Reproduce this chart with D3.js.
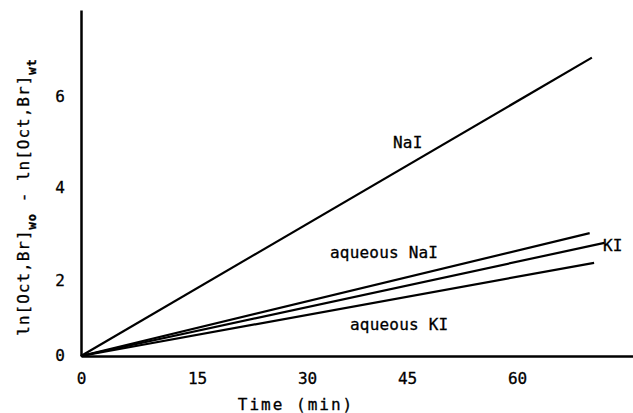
<!DOCTYPE html>
<html>
<head>
<meta charset="utf-8">
<script src="https://cdn.jsdelivr.net/npm/d3@7"></script>
<style>
  html, body { margin: 0; padding: 0; background: #fff; }
  text { font-family: "DejaVu Sans Mono", "Liberation Mono", monospace; fill: #000; stroke: #000; stroke-width: 0.3px; }
</style>
</head>
<body>
<svg id="chart" width="633" height="413"></svg>
<script>
const width = 633;
const height = 413;

// tick labels as printed (hand-placed on the original, so scales are piecewise)
const xTicks = [0, 15, 30, 45, 60];
const yTicks = [0, 2, 4, 6];

// time (min) at start and end of each fitted line
const naiTime = [0, 70.2];
const naiVal = [0, 6.86];
const aqNaiTime = [0, 69.9];
const aqNaiVal = [0, 3.03];
const kiTime = [0, 71.9];
const kiVal = [0, 2.82];
const aqKiTime = [0, 70.5];
const aqKiVal = [0, 2.39];

const svg = d3.select("#chart");

const x = d3.scaleLinear()
  .domain([0, 15, 30, 45, 60, 75.8])
  .range([81, 197, 307, 407, 517, 633]);

const y = d3.scaleLinear()
  .domain([0, 2, 4, 6, 7.9])
  .range([356, 281, 188, 97, 10]);

// X axis
const xAxis = svg.append("g")
  .attr("transform", `translate(0,${y(0)})`)
  .call(d3.axisBottom(x).tickValues(xTicks).tickSize(0).tickSizeOuter(0).tickPadding(17));

// Y axis
const yAxis = svg.append("g")
  .attr("transform", `translate(${x(0)},0)`)
  .call(d3.axisLeft(y).tickValues(yTicks).tickSize(0).tickSizeOuter(0).tickPadding(16));

[xAxis, yAxis].forEach(a => {
  a.select(".domain").attr("stroke", "#000").attr("stroke-width", 2.5);
  a.selectAll("text")
    .style("font-family", "'DejaVu Sans Mono', monospace")
    .style("font-size", "16px")
    .attr("fill", "#000");
});
yAxis.selectAll(".tick text").attr("dy", "0.25em");

// lines
const series = [
  { t: naiTime, v: naiVal },
  { t: aqNaiTime, v: aqNaiVal },
  { t: kiTime, v: kiVal },
  { t: aqKiTime, v: aqKiVal }
];

const line = d3.line()
  .x(d => x(d[0]))
  .y(d => y(d[1]));

svg.append("g")
  .selectAll("path")
  .data(series)
  .enter()
  .append("path")
  .attr("d", s => line(d3.zip(s.t, s.v)))
  .attr("fill", "none")
  .attr("stroke", "#000")
  .attr("stroke-width", 2.2);

// line labels
const labels = [
  { text: "NaI", x: 393, y: 148 },
  { text: "aqueous NaI", x: 330, y: 258 },
  { text: "KI", x: 603, y: 251 },
  { text: "aqueous KI", x: 350, y: 330 }
];

svg.append("g")
  .selectAll("text")
  .data(labels)
  .enter()
  .append("text")
  .attr("x", d => d.x)
  .attr("y", d => d.y)
  .style("font-size", "16px")
  .style("letter-spacing", "0.2px")
  .text(d => d.text);

// axis titles
svg.append("text")
  .attr("x", 296)
  .attr("y", 410)
  .attr("text-anchor", "middle")
  .style("font-size", "16px")
  .style("letter-spacing", "2px")
  .text("Time (min)");

const yTitle = svg.append("text")
  .attr("transform", "translate(29,197) rotate(-90)")
  .attr("text-anchor", "middle")
  .style("font-size", "16px")
  .style("letter-spacing", "1px");
yTitle.append("tspan").text("ln[Oct,Br]");
yTitle.append("tspan").attr("baseline-shift", "sub").style("font-size", "12px").style("font-weight", "bold").text("wo");
yTitle.append("tspan").text(" - ln[Oct,Br]");
yTitle.append("tspan").attr("baseline-shift", "sub").style("font-size", "12px").style("font-weight", "bold").text("wt");
</script>
</body>
</html>
